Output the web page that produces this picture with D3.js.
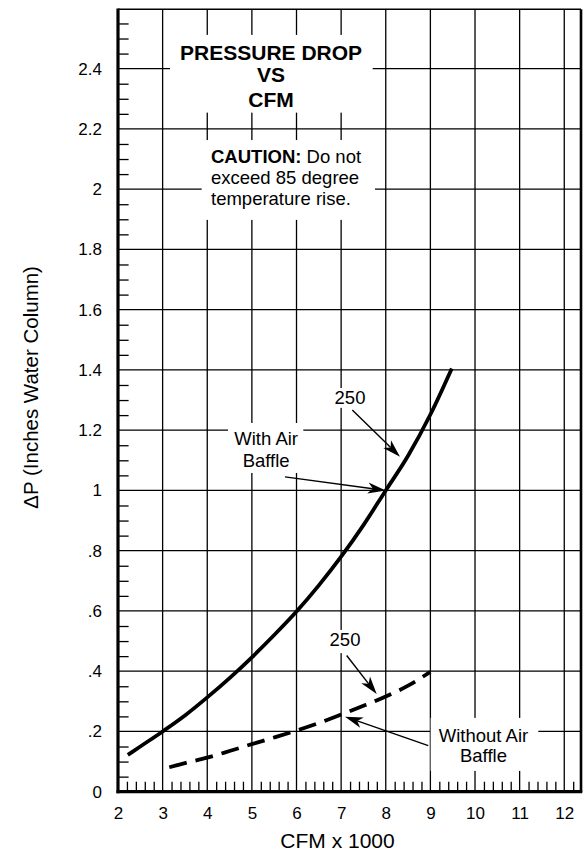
<!DOCTYPE html>
<html>
<head>
<meta charset="utf-8">
<script src="https://cdn.jsdelivr.net/npm/d3@7"></script>
<style>
  body { margin: 0; background: #fff; }
  svg { display: block; }
  text { font-family: "Liberation Sans", Arial, Helvetica, sans-serif; fill: #000; }
</style>
</head>
<body>
<svg id="chart" width="584" height="853"></svg>
<script>
// ---------- data ----------
const cfmWithBaffle = [2.22, 2.5, 3, 3.5, 4, 4.5, 5, 5.5, 6, 6.5, 7, 7.5, 8, 8.5, 9, 9.48];
const dpWithBaffle  = [0.122, 0.150, 0.200, 0.253, 0.313, 0.377, 0.446, 0.520, 0.598, 0.685, 0.780, 0.885, 1.000, 1.115, 1.252, 1.405];

const cfmWithoutBaffle = [3.15, 3.5, 4, 4.5, 5, 5.5, 6, 6.5, 7, 7.5, 8, 8.5, 9];
const dpWithoutBaffle  = [0.081, 0.095, 0.113, 0.135, 0.158, 0.180, 0.203, 0.228, 0.256, 0.285, 0.316, 0.352, 0.398];

const xTickValues = [2, 3, 4, 5, 6, 7, 8, 9, 10, 11, 12];
const xTickLabels = ["2", "3", "4", "5", "6", "7", "8", "9", "10", "11", "12"];
const yTickValues = [0, 0.2, 0.4, 0.6, 0.8, 1.0, 1.2, 1.4, 1.6, 1.8, 2.0, 2.2, 2.4];
const yTickLabels = ["0", ".2", ".4", ".6", ".8", "1", "1.2", "1.4", "1.6", "1.8", "2", "2.2", "2.4"];

const xTitle = "CFM x 1000";
const yTitle = "\u0394P (Inches Water Column)";
const titleLines = ["PRESSURE DROP", "VS", "CFM"];
const cautionBold = "CAUTION:";
const cautionLines = [" Do not", "exceed 85 degree", "temperature rise."];
const labelWith = ["With Air", "Baffle"];
const labelWithout = ["Without Air", "Baffle"];
const label250 = "250";

// ---------- layout ----------
const plotLeft = 118, plotRight = 581, plotTop = 9.3, plotBottom = 791.7;
const xMax = 12.375, yMax = 2.597;

const svg = d3.select("#chart");
const x = d3.scaleLinear().domain([2, xMax]).range([plotLeft, plotRight]);
const y = d3.scaleLinear().domain([0, yMax]).range([plotBottom, plotTop]);

// ---------- grid ----------
const grid = svg.append("g").attr("stroke", "#000").attr("stroke-width", 1.3);
grid.selectAll("line.v").data(xTickValues.filter(v => v > 2)).join("line")
  .attr("x1", d => x(d)).attr("x2", d => x(d))
  .attr("y1", y(0)).attr("y2", y(yMax));
grid.selectAll("line.h").data(yTickValues.filter(v => v > 0)).join("line")
  .attr("x1", x(2)).attr("x2", x(xMax))
  .attr("y1", d => y(d)).attr("y2", d => y(d));

// minor ticks (y every .05, x every .2)
const yMinor = d3.range(1, 52).filter(i => i % 4 !== 0).map(i => i * 0.05);
const xMinor = d3.range(1, 52).filter(i => i % 5 !== 0).map(i => 2 + i * 0.2);
const yMinorAxis = svg.append("g").attr("transform", `translate(${plotLeft},0)`)
  .call(d3.axisRight(y).tickValues(yMinor).tickSize(10.6).tickFormat(""));
yMinorAxis.select(".domain").remove();
yMinorAxis.selectAll("line").attr("stroke", "#000").attr("stroke-width", 1.3);
const xMinorAxis = svg.append("g").attr("transform", `translate(0,${plotBottom})`)
  .call(d3.axisTop(x).tickValues(xMinor).tickSize(10).tickFormat(""));
xMinorAxis.select(".domain").remove();
xMinorAxis.selectAll("line").attr("stroke", "#000").attr("stroke-width", 1.3);

// ---------- white label boxes (hide grid behind text) ----------
const boxes = [
  [3.165, 7.707, 2.254, 2.512],   // title
  [3.875, 7.758, 1.898, 2.163],   // caution
  [6.82, 7.58, 1.274, 1.340],     // upper 250
  [4.465, 6.152, 1.058, 1.224],   // with air baffle
  [6.705, 7.467, 0.460, 0.537],   // lower 250
  [9.005, 11.418, 0.069, 0.245]   // without air baffle
];
svg.append("g").selectAll("rect").data(boxes).join("rect")
  .attr("x", d => x(d[0])).attr("width", d => x(d[1]) - x(d[0]))
  .attr("y", d => y(d[3])).attr("height", d => y(d[2]) - y(d[3]))
  .attr("fill", "#fff");

// ---------- frame / axes ----------
const frame = svg.append("g").attr("stroke", "#000").attr("fill", "none");
frame.append("line").attr("x1", x(2)).attr("x2", x(xMax)).attr("y1", y(yMax)).attr("y2", y(yMax)).attr("stroke-width", 1.6);
frame.append("line").attr("x1", x(xMax)).attr("x2", x(xMax)).attr("y1", y(yMax)).attr("y2", y(0)).attr("stroke-width", 2.6);
frame.append("line").attr("x1", x(2)).attr("x2", x(2)).attr("y1", y(yMax) - 0.8).attr("y2", y(0) + 1.5).attr("stroke-width", 3.2);
frame.append("line").attr("x1", x(2) - 1.5).attr("x2", x(xMax) + 1.3).attr("y1", y(0)).attr("y2", y(0)).attr("stroke-width", 3.2);

// tick labels via axes
const yAxis = svg.append("g").attr("transform", `translate(${plotLeft},0)`)
  .call(d3.axisLeft(y).tickValues(yTickValues).tickSize(0).tickPadding(16)
    .tickFormat((d, i) => yTickLabels[i]));
yAxis.select(".domain").remove();
yAxis.selectAll("text").attr("font-size", 17).attr("font-family", null).attr("fill", "#000");

const xAxis = svg.append("g").attr("transform", `translate(0,${plotBottom})`)
  .call(d3.axisBottom(x).tickValues(xTickValues).tickSize(0).tickPadding(15.6)
    .tickFormat((d, i) => xTickLabels[i]));
xAxis.select(".domain").remove();
xAxis.selectAll("text").attr("font-size", 17).attr("font-family", null).attr("fill", "#000");

// axis titles
svg.append("text").attr("x", x(6.92)).attr("y", 848.3)
  .attr("text-anchor", "middle").attr("font-size", 21).text(xTitle);
svg.append("text").attr("transform", `translate(38,${y(1.342)}) rotate(-90)`)
  .attr("text-anchor", "middle").attr("font-size", 20.5).text(yTitle);

// ---------- curves ----------
const line = d3.line().x(d => x(d[0])).y(d => y(d[1])).curve(d3.curveMonotoneX);
svg.append("path").datum(d3.zip(cfmWithBaffle, dpWithBaffle))
  .attr("d", line).attr("fill", "none").attr("stroke", "#000")
  .attr("stroke-width", 3.8).attr("stroke-linecap", "butt");
svg.append("path").datum(d3.zip(cfmWithoutBaffle, dpWithoutBaffle))
  .attr("d", line).attr("fill", "none").attr("stroke", "#000")
  .attr("stroke-width", 3.8).attr("stroke-dasharray", "18 9");

// ---------- text annotations ----------
const tg = svg.append("g");
function lines(arr, cx, bases, size, weight) {
  arr.forEach((t, i) => {
    tg.append("text").attr("x", x(cx)).attr("y", y(bases[i]))
      .attr("text-anchor", "middle").attr("font-size", size)
      .attr("font-weight", weight).text(t);
  });
}
lines(titleLines, 5.43, [2.430, 2.355, 2.274], 21, "bold");

const c1 = tg.append("text").attr("x", x(4.084)).attr("y", y(2.086)).attr("font-size", 18.5);
c1.append("tspan").attr("font-weight", "bold").text(cautionBold);
c1.append("tspan").text(cautionLines[0]);
tg.append("text").attr("x", x(4.084)).attr("y", y(2.016)).attr("font-size", 18.5).text(cautionLines[1]);
tg.append("text").attr("x", x(4.084)).attr("y", y(1.947)).attr("font-size", 18.5).text(cautionLines[2]);

lines([label250], 7.199, [1.287], 18.5, "normal");
lines(labelWith, 5.32, [1.151, 1.079], 18.5, "normal");
lines([label250], 7.087, [0.485], 18.5, "normal");
lines(labelWithout, 10.19, [0.166, 0.098], 18.5, "normal");

// ---------- arrows ----------
const arrows = [
  [[7.25, 1.267], [8.319, 1.112]],
  [[5.742, 1.045], [8.0, 1.0]],
  [[7.124, 0.452], [7.797, 0.324]],
  [[8.953, 0.153], [7.086, 0.249]]
];
const ag = svg.append("g");
arrows.forEach(([s, t]) => {
  const sx = x(s[0]), sy = y(s[1]), tx = x(t[0]), ty = y(t[1]);
  const len = Math.hypot(tx - sx, ty - sy);
  const ux = (tx - sx) / len, uy = (ty - sy) / len;
  const nx = -uy, ny = ux;
  const L = 18, w = 5.5, notch = 5;
  const bx = tx - L * ux, by = ty - L * uy;
  const kx = tx - (L - notch) * ux, ky = ty - (L - notch) * uy;
  ag.append("line").attr("x1", sx).attr("y1", sy).attr("x2", kx).attr("y2", ky)
    .attr("stroke", "#000").attr("stroke-width", 1.4);
  ag.append("path")
    .attr("d", `M${tx},${ty}L${bx + w * nx},${by + w * ny}L${kx},${ky}L${bx - w * nx},${by - w * ny}Z`)
    .attr("fill", "#000");
});
</script>
</body>
</html>
